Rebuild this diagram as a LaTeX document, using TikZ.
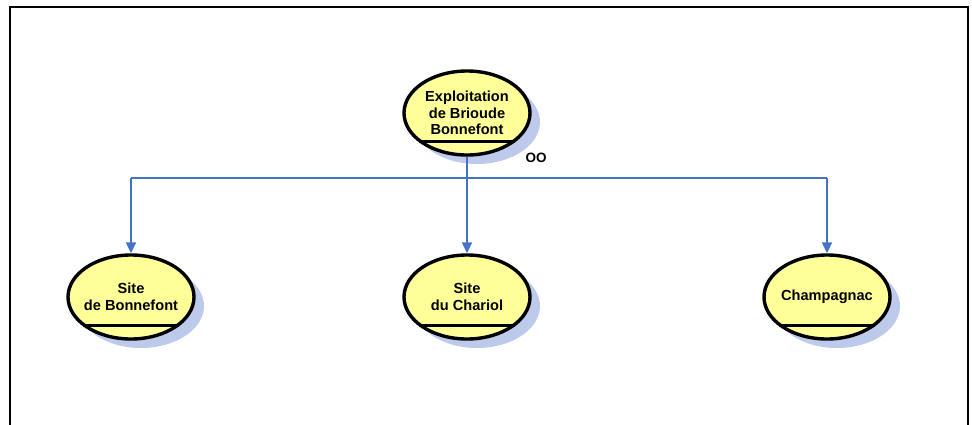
\documentclass[tikz,border=0pt]{standalone}
\usepackage{fontspec}
\setmainfont{Liberation Sans}
\usetikzlibrary{shapes.geometric,arrows.meta}
\definecolor{nodefill}{RGB}{255,255,153}
\definecolor{conncol}{RGB}{68,114,196}
\definecolor{shadowcol}{RGB}{190,202,236}
\tikzset{
  x=1pt,y=-1pt,
  unit/.style={ellipse,draw=black,line width=3.4pt,fill=nodefill,minimum width=126pt,minimum height=84pt,inner sep=-5pt,align=center,font=\bfseries\fontsize{14.6}{16.7}\selectfont},
  shade/.style={ellipse,fill=shadowcol,minimum width=126pt,minimum height=84pt,inner sep=0pt},
  bar/.style={line width=3pt,black},
  conn/.style={draw=conncol,line width=1.8pt},
  tip/.style={-{Triangle[width=10pt,length=11pt]}},
  frame/.style={line width=2.8pt,black}
}
\begin{document}
\begin{tikzpicture}
\useasboundingbox (0,0) rectangle (972,424);
% frame
\draw[frame] (10,426) -- (10,7) -- (968,7) -- (968,426);
% shadows
\node[shade] (s0) at (477,122) {};
\node[shade] (s1) at (141,306) {};
\node[shade] (s2) at (477,306) {};
\node[shade] (s3) at (837,306) {};
% nodes
\node[unit] (top) at (467,113) {Exploitation\\de Brioude\\Bonnefont};
\node[unit] (c1) at (131,297) {Site\\de Bonnefont};
\node[unit] (c2) at (467,297) {Site\\du Chariol};
\node[unit] (c3) at (827,297) {Champagnac};
% bars
\foreach \n in {top,c1,c2,c3}{
  \draw[bar] ([shift={(-48pt,-28pt)}]\n.center) -- ([shift={(48pt,-28pt)}]\n.center);
}
\node[font=\bfseries\fontsize{13.5}{13.5}\selectfont,anchor=center] (oo) at (536,158) {OO};
% connectors
\coordinate (bus) at (467,178);
\draw[conn] (bus -| c1) -- (bus -| c3);
\draw[conn,tip] (top.south) -- (c2.north);
\draw[conn,tip] (bus -| c1) -- (c1.north);
\draw[conn,tip] (bus -| c3) -- (c3.north);
\end{tikzpicture}
\end{document}
